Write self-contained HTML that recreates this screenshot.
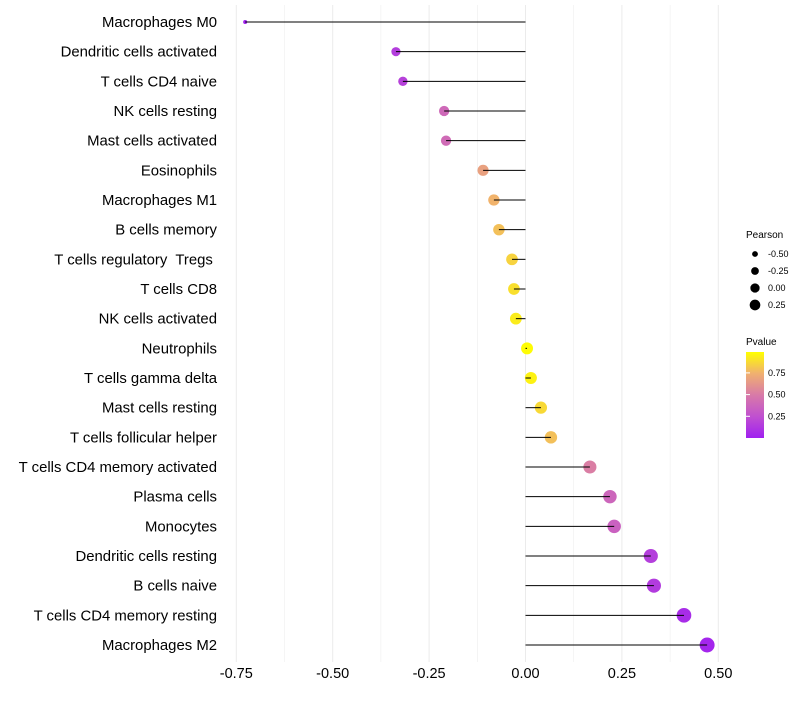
<!DOCTYPE html>
<html><head><meta charset="utf-8"><style>
body{margin:0;background:#fff;font-family:"Liberation Sans",sans-serif}
text{white-space:pre}
</style></head><body>
<svg id="chart" width="800" height="700" xmlns="http://www.w3.org/2000/svg">
<defs><linearGradient id="pg" x1="0" y1="1" x2="0" y2="0">
<stop offset="0" stop-color="#a020f0"/><stop offset="0.25" stop-color="#c050d0"/><stop offset="0.5" stop-color="#d87aa8"/><stop offset="0.75" stop-color="#f0b070"/><stop offset="1" stop-color="#ffff00"/></linearGradient></defs>
<g id="grid"></g><g id="marks"></g><g id="labels"></g>
<g font-size="9">
<text x="746" y="238" font-size="10">Pearson</text>
<g id="sizeLegend"></g>
<text x="746" y="345" font-size="10">Pvalue</text>
<rect x="746" y="352" width="18" height="86" fill="url(#pg)"/>
<g id="cbTicks"></g>
</g>
</svg>
<script>
const cells=["Macrophages M0","Dendritic cells activated","T cells CD4 naive","NK cells resting","Mast cells activated","Eosinophils","Macrophages M1","B cells memory","T cells regulatory  Tregs ","T cells CD8","NK cells activated","Neutrophils","T cells gamma delta","Mast cells resting","T cells follicular helper","T cells CD4 memory activated","Plasma cells","Monocytes","Dendritic cells resting","B cells naive","T cells CD4 memory resting","Macrophages M2"];
const pearson=[-0.727,-0.336,-0.318,-0.211,-0.206,-0.110,-0.082,-0.069,-0.035,-0.030,-0.025,0.004,0.014,0.040,0.066,0.167,0.219,0.230,0.325,0.333,0.411,0.471];
const pvalue=[0.01,0.15,0.17,0.40,0.41,0.68,0.76,0.80,0.86,0.90,0.94,0.99,0.96,0.88,0.80,0.52,0.38,0.35,0.16,0.14,0.06,0.03];
const xTicks=[-0.75,-0.5,-0.25,0,0.25,0.5];
const xTickLabels=["-0.75","-0.50","-0.25","0.00","0.25","0.50"];
const sizeLegVals=[-0.5,-0.25,0,0.25];
const cbVals=[0.25,0.5,0.75];
const NS="http://www.w3.org/2000/svg";
const x=v=>525.5+v*385.6;
const y=i=>22+i*29.667;
const r=v=>Math.sqrt(4+(v+0.73)/1.2*52);
const cy=p=>438-p*86.8;
const stops=[[0,[160,32,240]],[0.25,[192,80,208]],[0.5,[216,122,168]],[0.75,[240,176,112]],[1,[255,255,0]]];
function col(p){for(let k=1;k<stops.length;k++){if(p<=stops[k][0]){const a=stops[k-1],b=stops[k],t=(p-a[0])/(b[0]-a[0]);return `rgb(${a[1].map((c,j)=>Math.round(c+(b[1][j]-c)*t)).join(',')})`;}}return 'rgb(255,255,0)';}
function mk(tag,at,parent){const e=document.createElementNS(NS,tag);for(const k in at)e.setAttribute(k,at[k]);document.getElementById(parent).appendChild(e);return e;}
for(let v=-0.75;v<=0.51;v+=0.125){const g=mk('line',{x1:x(v),x2:x(v),y1:5,y2:662,stroke:'#ebebeb','stroke-width':Math.abs((v*4)%1)<0.01?1:0.5},'grid');

}
xTicks.forEach((v,i)=>{const t=mk('text',{x:x(v),y:678,'text-anchor':'middle','font-size':14.5,fill:'#000'},'labels');t.textContent=xTickLabels[i];

});
cells.forEach((c,i)=>{const t=mk('text',{x:217,y:y(i)+5,'text-anchor':'end','font-size':14.9,fill:'#000'},'labels');t.textContent=c;


const d=mk('circle',{cx:x(pearson[i]),cy:y(i),r:r(pearson[i]),fill:col(pvalue[i])},'marks');


const l=mk('line',{x1:x(0),x2:x(pearson[i]),y1:y(i),y2:y(i),stroke:'#000','stroke-width':1},'marks');

});
sizeLegVals.forEach((v,i)=>{const c=mk('circle',{cx:755,cy:254+i*17,r:r(v)*0.78,fill:'#000'},'sizeLegend');


const t=mk('text',{x:768,y:257+i*17,'font-size':9},'sizeLegend');t.textContent=v.toFixed(2);

});
cbVals.forEach(v=>{const t=mk('text',{x:768,y:cy(v)+3,'font-size':9},'cbTicks');t.textContent=v.toFixed(2);


const l=mk('line',{x1:746,x2:750,y1:cy(v),y2:cy(v),stroke:'#fff'},'cbTicks');

});
</script>
</body></html>
